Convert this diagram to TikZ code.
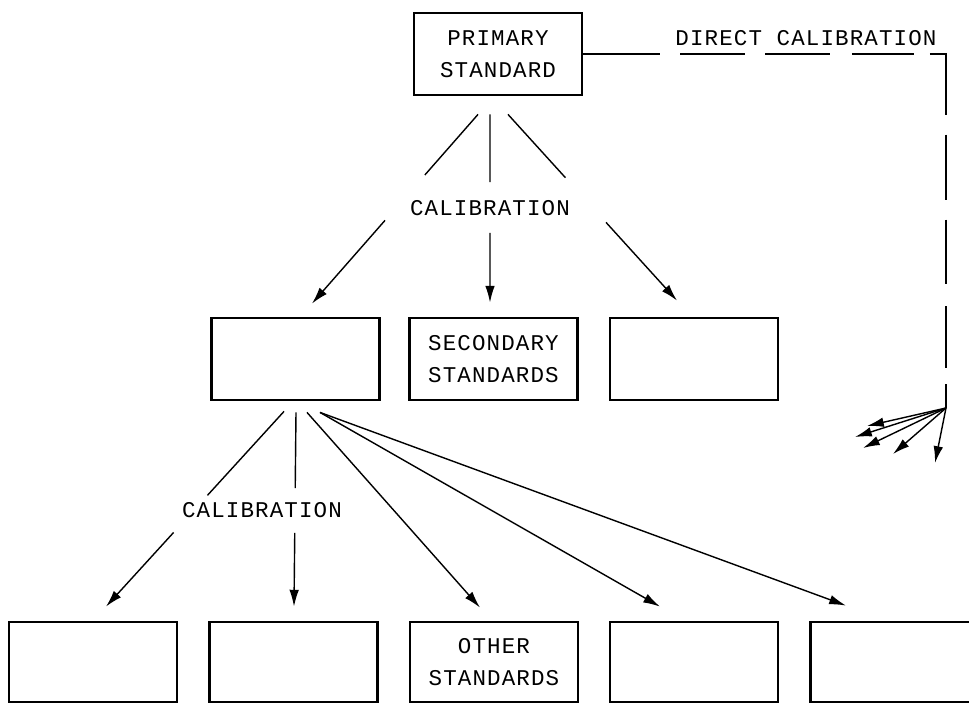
\documentclass[tikz,border=0pt]{standalone}
\usepackage{fontspec}
\usepackage{tikz}
\usetikzlibrary{arrows.meta, calc}
\newfontfamily\plotfont[LetterSpace=5]{Liberation Mono}

\tikzset{
    stdbox/.style={draw, line width=2pt, fill=white, minimum width=4.2cm,
        minimum height=2.05cm, inner sep=0pt, align=center,
        font=\plotfont\fontsize{16}{22.5}\selectfont},
    link/.style={line width=1pt},
    calarrow/.style={link, -{Latex[length=4.2mm, width=2.4mm]}},
    lbl/.style={font=\plotfont\fontsize{16}{22.5}\selectfont, inner sep=0pt}
}

\begin{document}
\begin{tikzpicture}[x=0.025cm, y=-0.025cm]
    \clip (0,0) rectangle (969,704);
    % primary standard and direct calibration
    \node[stdbox] (prim) at (498,54) {PRIMARY\\STANDARD};
    \node[lbl] (direct) at (806,38) {DIRECT CALIBRATION};
    \draw[link, dash pattern=on 1.92cm off 0.5cm on 1.62cm off 0.5cm on 1.62cm off 0.55cm
        on 1.55cm off 0.4cm] (prim.east) -| (946,408) coordinate (fan);
    \foreach \dx/\dy in {-79/18, -91/29, -83/40, -53/46, -11/55}
        \draw[calarrow] (fan) -- ++(\dx,\dy);
    % secondary standards
    \node[stdbox] (seca) at (295.5,359) {};
    \node[stdbox] (secb) at (493.5,359) {SECONDARY\\STANDARDS};
    \node[stdbox] (secc) at (694,359) {};
    \node[lbl] (cal1) at (490,208) {CALIBRATION};
    \coordinate (p1) at ($(prim.south)+(-20,18)$);
    \coordinate (p2) at ($(prim.south)+(-8,18)$);
    \coordinate (p3) at ($(prim.south)+(10,18)$);
    \coordinate (t1) at ($(seca.north)+(16.5,-13)$);
    \coordinate (t2) at ($(secb.north)+(-3.5,-14)$);
    \coordinate (t3) at ($(secc.north)+(-17,-16)$);
    \draw[link] (p1) -- ($(p1)!0.32!(t1)$);
    \draw[calarrow] ($(p1)!0.56!(t1)$) -- (t1);
    \draw[link] (p2) -- ($(p2)!0.36!(t2)$);
    \draw[calarrow] ($(p2)!0.63!(t2)$) -- (t2);
    \draw[link] (p3) -- ($(p3)!0.34!(t3)$);
    \draw[calarrow] ($(p3)!0.58!(t3)$) -- (t3);
    % other standards
    \node[stdbox, minimum height=2cm] (oth1) at (93,662) {};
    \node[stdbox, minimum height=2cm] (oth2) at (293.5,662) {};
    \node[stdbox, minimum height=2cm] (oth3) at (494,662) {OTHER\\STANDARDS};
    \node[stdbox, minimum height=2cm] (oth4) at (694,662) {};
    \node[stdbox, minimum height=2cm] (oth5) at (894.5,662) {};
    \node[lbl] (cal2) at (262,510) {CALIBRATION};
    \coordinate (q1) at ($(seca.south)+(-11.5,10)$);
    \coordinate (q2) at ($(seca.south)+(0.5,11)$);
    \coordinate (q3) at ($(seca.south)+(11.5,11)$);
    \coordinate (q4) at ($(seca.south)+(24.5,11)$);
    \coordinate (u1) at ($(oth1.north)+(13,-14)$);
    \coordinate (u2) at ($(oth2.north)+(0.5,-14)$);
    \draw[link] (q1) -- ($(q1)!0.43!(u1)$);
    \draw[calarrow] ($(q1)!0.62!(u1)$) -- (u1);
    \draw[link] (q2) -- ($(q2)!0.39!(u2)$);
    \draw[calarrow] ($(q2)!0.62!(u2)$) -- (u2);
    \draw[calarrow] (q3) -- ($(oth3.north)+(-14,-13)$);
    \draw[calarrow] (q4) -- ($(oth4.north)+(-34,-14)$);
    \draw[calarrow] (q4) -- ($(oth5.north)+(-48.5,-15)$);
\end{tikzpicture}
\end{document}
